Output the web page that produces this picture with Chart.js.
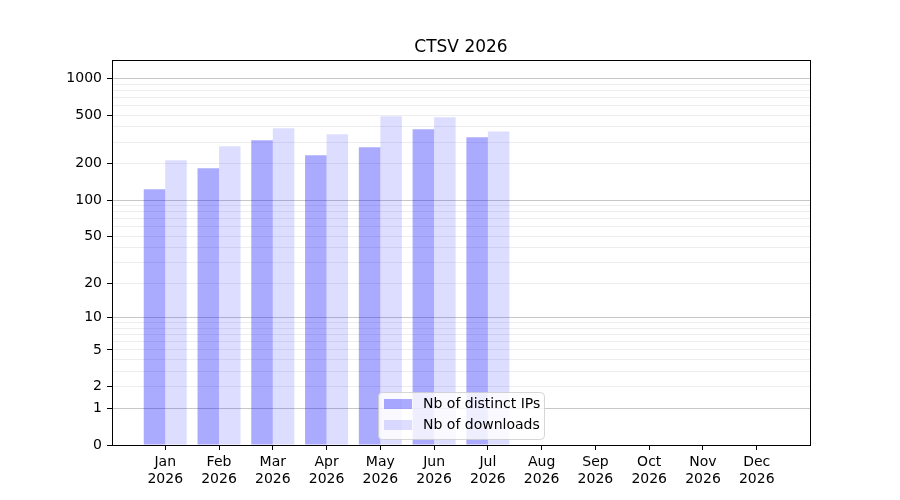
<!DOCTYPE html>
<html>
<head>
<meta charset="utf-8">
<title>CTSV 2026</title>
<script src="https://cdn.jsdelivr.net/npm/chart.js@4.4.1/dist/chart.umd.min.js"></script>
<style>
  html, body { margin: 0; padding: 0; background: #fff; }
  #wrap { width: 900px; height: 500px; }
</style>
</head>
<body>
<div id="wrap"><canvas id="ctsvChart" width="900" height="500"></canvas></div>
<script>
/* ============================
   DATA
============================ */
const months = ["Jan", "Feb", "Mar", "Apr", "May", "Jun", "Jul", "Aug", "Sep", "Oct", "Nov", "Dec"];
const yearLabel = "2026";
const distinctIPs = [123, 183, 311, 234, 272, 383, 329, 0, 0, 0, 0, 0];
const downloads = [213, 278, 390, 348, 489, 480, 368, 0, 0, 0, 0, 0];

// y axis: labelled ticks + unlabelled minor grid lines
const yTickValues = [0, 1, 2, 5, 10, 20, 50, 100, 200, 500, 1000];
const yMinorValues = [3, 4, 6, 7, 8, 9, 30, 40, 60, 70, 80, 90, 300, 400, 600, 700, 800, 900];
const yMajorGrid = [1, 10, 100, 1000];
const yMaxValue = 1405;

/* ============================
   HELPERS
============================ */
// y scale is log10(v + 1)
const fwd = (v) => Math.log10(v + 1);
const FONT = "'DejaVu Sans', 'Liberation Sans', sans-serif";

const allYTicks = yTickValues.concat(yMinorValues).sort((a, b) => a - b);

function findRaw(t) {
  return allYTicks.find((v) => Math.abs(fwd(v) - t) < 1e-9);
}

/* ============================
   PLUGINS
============================ */
const framePlugin = {
  id: "frame",
  afterDatasetsDraw(chart) {
    const { ctx, chartArea: a } = chart;
    ctx.save();
    ctx.strokeStyle = "#000";
    ctx.lineWidth = 1;
    ctx.strokeRect(Math.round(a.left) + 0.5, Math.round(a.top) + 0.5,
      Math.round(a.right - a.left), Math.round(a.bottom - a.top));
    ctx.restore();
  },
};

const boxLegend = {
  id: "boxLegend",
  afterDraw(chart) {
    const { ctx } = chart;
    const x = 378, y = 392, w = 166, h = 47, r = 4;
    ctx.save();
    ctx.beginPath();
    ctx.roundRect(x + 0.5, y + 0.5, w, h, r);
    ctx.fillStyle = "rgba(255,255,255,0.8)";
    ctx.fill();
    ctx.strokeStyle = "rgba(204,204,204,0.8)";
    ctx.lineWidth = 1;
    ctx.stroke();

    ctx.font = "14px " + FONT;
    ctx.textBaseline = "middle";
    chart.data.datasets.forEach((ds, i) => {
      const rowY = 404 + i * 21;
      ctx.fillStyle = ds.backgroundColor;
      ctx.fillRect(384, rowY - 5, 28, 10);
      ctx.fillStyle = "#000";
      ctx.fillText(ds.label, 423, rowY);
    });
    ctx.restore();
  },
};

/* ============================
   CHART
============================ */
const ctx = document.getElementById("ctsvChart").getContext("2d");

new Chart(ctx, {
  type: "bar",
  data: {
    datasets: [
      {
        label: "Nb of distinct IPs",
        data: distinctIPs.map((v, i) => ({ x: i, y: fwd(v) })),
        backgroundColor: "rgba(0,0,255,0.333)",
        borderWidth: 0,
      },
      {
        label: "Nb of downloads",
        data: downloads.map((v, i) => ({ x: i, y: fwd(v) })),
        backgroundColor: "rgba(0,0,255,0.133)",
        borderWidth: 0,
      },
    ],
  },
  options: {
    responsive: false,
    animation: false,
    devicePixelRatio: 1,
    categoryPercentage: 0.8,
    barPercentage: 1.0,
    layout: { padding: { left: 0, right: 90, top: 0, bottom: 0 } },
    plugins: {
      legend: { display: false },
      tooltip: { enabled: false },
      title: {
        display: true,
        text: "CTSV 2026",
        fullSize: false,
        color: "#000",
        font: { family: FONT, size: 17, weight: "normal" },
        padding: { top: 37, bottom: 3 },
      },
    },
    scales: {
      x: {
        type: "linear",
        min: -0.99,
        max: 11.99,
        offset: false,
        afterBuildTicks: (scale) => {
          scale.ticks = months.map((m, i) => ({ value: i }));
        },
        afterFit: (scale) => {
          scale.height = 55;
        },
        ticks: {
          autoSkip: false,
          maxRotation: 0,
          padding: 4,
          color: "#000",
          font: { family: FONT, size: 14 },
          callback: (v) => [months[v], yearLabel],
        },
        grid: {
          offset: false,
          drawOnChartArea: false,
          drawTicks: true,
          tickLength: 5,
          tickColor: "#000",
        },
        border: { display: true, color: "#000" },
      },
      y: {
        type: "linear",
        min: 0,
        max: fwd(yMaxValue),
        afterBuildTicks: (scale) => {
          scale.ticks = allYTicks.map((v) => ({ value: fwd(v) }));
        },
        afterFit: (scale) => {
          scale.width = 112;
        },
        ticks: {
          autoSkip: false,
          padding: 5,
          color: "#000",
          font: { family: FONT, size: 14 },
          callback: (t) => {
            const raw = findRaw(t);
            return yTickValues.includes(raw) ? String(raw) : "";
          },
        },
        grid: {
          drawTicks: true,
          tickLength: 5,
          lineWidth: 1,
          color: (c) => {
            const raw = findRaw(c.tick.value);
            return yMajorGrid.includes(raw) ? "rgba(0,0,0,0.22)" : "rgba(0,0,0,0.07)";
          },
          tickColor: (c) => {
            const raw = findRaw(c.tick.value);
            return yTickValues.includes(raw) ? "#000" : "rgba(0,0,0,0)";
          },
        },
        border: { display: true, color: "#000" },
      },
    },
  },
  plugins: [framePlugin, boxLegend],
});
</script>
</body>
</html>
